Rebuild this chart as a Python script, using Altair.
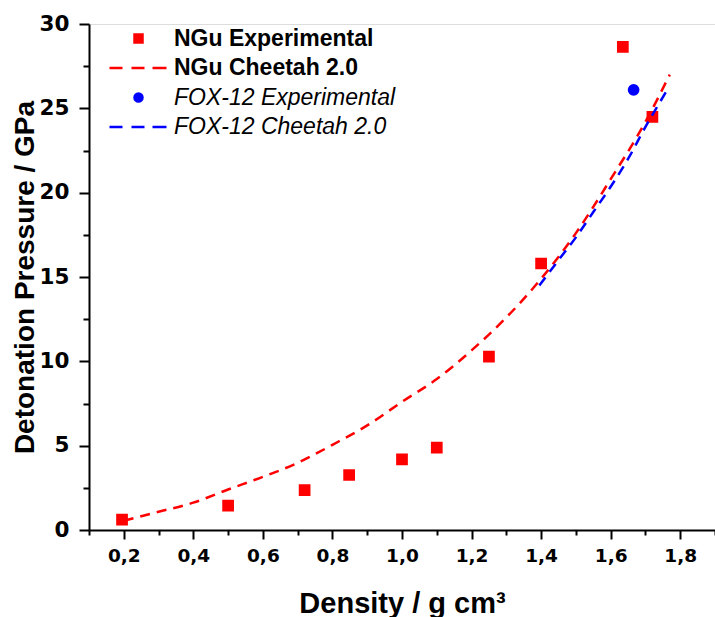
import altair as alt
import pandas as pd

# ---- data ----
ngu_exp_x = [0.195, 0.5, 0.72, 0.848, 1.0, 1.1, 1.25, 1.4, 1.635, 1.72]
ngu_exp_y = [0.62, 1.44, 2.37, 3.26, 4.19, 4.88, 10.28, 15.8, 28.65, 24.5]

fox_exp_x = [1.666]
fox_exp_y = [26.1]

ngu_calc_x = [0.2, 0.3, 0.4, 0.5, 0.6, 0.7, 0.8, 0.9, 1.0, 1.1, 1.2, 1.3, 1.4, 1.5, 1.6, 1.7, 1.77]
ngu_calc_y = [0.55, 1.08, 1.62, 2.4, 3.15, 3.98, 5.05, 6.2, 7.6, 8.95, 10.65, 12.6, 14.9, 17.6, 20.8, 24.2, 27.0]

fox_calc_x = [1.395, 1.45, 1.5, 1.55, 1.6, 1.65, 1.7, 1.76]
fox_calc_y = [14.5, 16.0, 17.35, 18.85, 20.35, 22.0, 23.9, 26.0]

series_names = ["NGu Experimental", "NGu Cheetah 2.0", "FOX-12 Experimental", "FOX-12 Cheetah 2.0"]
series_colors = ["#ff0000", "#ff0000", "#0000ff", "#0000ff"]

x_major = [0.2, 0.4, 0.6, 0.8, 1.0, 1.2, 1.4, 1.6, 1.8]
x_minor = [0.1, 0.3, 0.5, 0.7, 0.9, 1.1, 1.3, 1.5, 1.7, 1.9]
y_major = [0, 5, 10, 15, 20, 25, 30]
y_minor = [2.5, 7.5, 12.5, 17.5, 22.5, 27.5]

# ---- tables ----
pts = pd.DataFrame(
    {"x": ngu_exp_x + fox_exp_x,
     "y": ngu_exp_y + fox_exp_y,
     "series": [series_names[0]] * len(ngu_exp_x) + [series_names[2]] * len(fox_exp_x)}
)
ngu_line = pd.DataFrame({"x": ngu_calc_x, "y": ngu_calc_y})
fox_line = pd.DataFrame({"x": fox_calc_x, "y": fox_calc_y})

FONT = "Liberation Sans"
TICK_FONT = "DejaVu Sans"
dash_path = "M-7.25,0H-4M-1.75,0H1.5M3.5,0H7"

xscale = alt.Scale(domain=[0.1, 1.9], nice=False, zero=False)
yscale = alt.Scale(domain=[0, 30], nice=False, zero=False)
cscale = alt.Scale(domain=series_names, range=series_colors)
shape_scale = alt.Scale(domain=series_names, range=["square", dash_path, "circle", dash_path])

legend = alt.Legend(
    title=None,
    orient="none",
    legendX=38,
    legendY=3,
    padding=0,
    symbolSize=64,
    symbolStrokeWidth=2.5,
    labelOffset=24,
    rowPadding=5.5,
    labelFont=FONT,
    labelFontSize=23,
    labelColor="black",
    labelFontWeight={"expr": "indexof(datum.label, 'FOX') >= 0 ? 'normal' : 'bold'"},
    labelFontStyle={"expr": "indexof(datum.label, 'FOX') >= 0 ? 'italic' : 'normal'"},
    labelLimit=400,
)

x_axis_major = alt.Axis(
    orient="bottom",
    values=x_major,
    labelExpr="replace(format(datum.value, '.1f'), '.', ',')",
    title="Density / g cm\u00b3",
    titleFont=FONT, titleFontSize=29, titleFontWeight="bold", titleColor="black",
    titleBaseline="alphabetic", titleY=82,
    labelFont=TICK_FONT, labelFontSize=18.5, labelFontWeight="bold", labelColor="black",
    labelPadding=7,
    tickSize=9, tickWidth=2, tickColor="black",
    domainWidth=2, domainColor="black",
    grid=False, labelFlush=False, labelOverlap=False,
)
y_axis_major = alt.Axis(
    orient="left",
    values=y_major, format="d",
    title="Detonation Pressure / GPa",
    titleFont=FONT, titleFontSize=28, titleFontWeight="bold", titleColor="black",
    titleBaseline="alphabetic", titleX=-56, titleY=253, titleAlign="center", titleAngle=270,
    labelFont=TICK_FONT, labelFontSize=21.5, labelFontWeight="bold", labelColor="black",
    labelPadding=10,
    tickSize=10, tickWidth=2, tickColor="black",
    domainWidth=2, domainColor="black",
    grid=False, labelFlush=False, labelOverlap=False,
)
x_axis_minor = alt.Axis(
    orient="bottom",
    values=x_minor, labels=False, title=None, domain=False, grid=False,
    tickSize=5, tickWidth=2, tickColor="black",
)
y_axis_minor = alt.Axis(
    orient="left",
    values=y_minor, labels=False, title=None, domain=False, grid=False,
    tickSize=6, tickWidth=2, tickColor="black",
)

point_layer = alt.Chart(pts).mark_point(
    filled=True, size=85, opacity=1, strokeWidth=2.5
).encode(
    x=alt.X("x:Q", scale=xscale, axis=x_axis_major),
    y=alt.Y("y:Q", scale=yscale, axis=y_axis_major),
    color=alt.Color("series:N", scale=cscale, legend=legend),
    stroke=alt.Stroke("series:N", scale=cscale, legend=legend),
    shape=alt.Shape("series:N", scale=shape_scale, legend=legend),
)

ngu_layer = alt.Chart(ngu_line).mark_line(
    color="#ff0000", strokeDash=[10, 7], strokeWidth=2.5, interpolate="monotone"
).encode(
    x=alt.X("x:Q", scale=xscale, axis=x_axis_minor),
    y=alt.Y("y:Q", scale=yscale, axis=y_axis_minor),
)

fox_layer = alt.Chart(fox_line).mark_line(
    color="#0000ff", strokeDash=[10, 7], strokeWidth=2.5, interpolate="monotone"
).encode(
    x=alt.X("x:Q", scale=xscale, axis=None),
    y=alt.Y("y:Q", scale=yscale, axis=None),
)

chart = alt.layer(point_layer, ngu_layer, fox_layer).resolve_axis(
    x="independent", y="independent"
).properties(
    width=626,
    height=506,
    autosize=alt.AutoSizeParams(type="none"),
    padding={"left": 89, "top": 24, "right": 0, "bottom": 87},
).configure_view(strokeWidth=0).configure(background="white")

chart.save("out.html", embed_options={"renderer": "svg", "actions": False})
